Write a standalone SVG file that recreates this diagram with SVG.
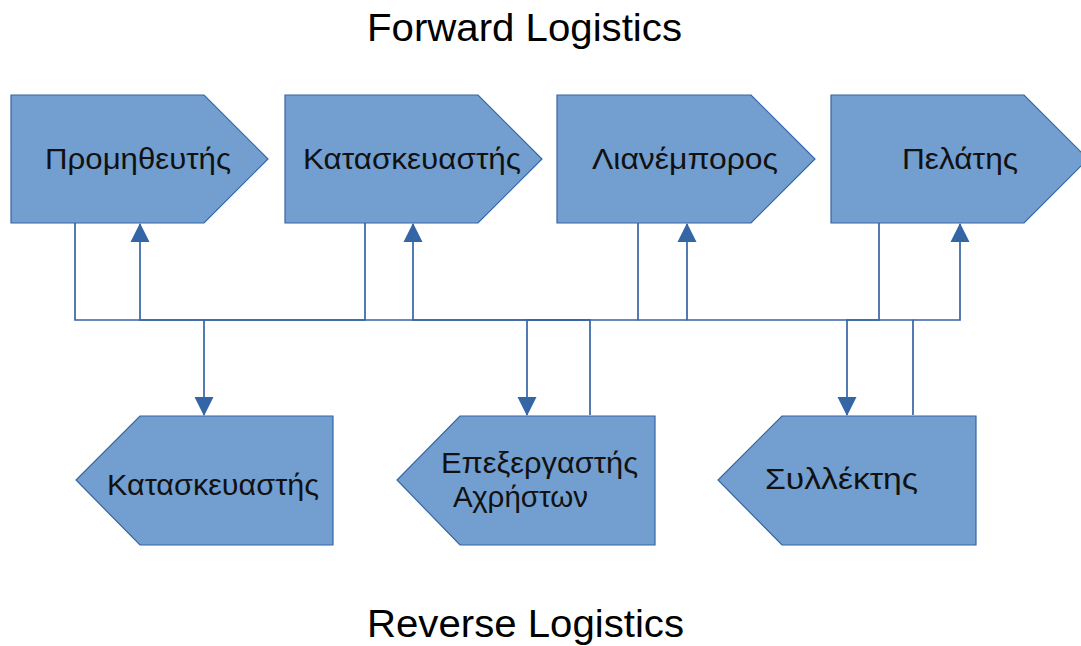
<svg xmlns="http://www.w3.org/2000/svg" width="1081" height="646" viewBox="0 0 1081 646">
  <style>
    .node { fill: #729fcf; stroke: #3465a4; stroke-width: 1.2; }
    .label { font-family: "Liberation Sans", Arial, sans-serif; font-size: 29px; fill: #111; }
    .title { font-family: "Liberation Sans", Arial, sans-serif; font-size: 38px; fill: #000; }
    .link { fill: none; stroke: #3465a4; stroke-width: 1.7; }
    .arrow { marker-end: url(#head); }
  </style>
  <defs>
    <marker id="head" markerUnits="userSpaceOnUse" markerWidth="20" markerHeight="20" viewBox="0 0 20 20" refX="18" refY="10" orient="auto">
      <path d="M0,0.5 L19,10 L0,19.5 Z" fill="#3465a4"/>
    </marker>
  </defs>
  <rect width="1081" height="646" fill="#ffffff"/>

  <text class="title" x="367" y="41" textLength="315" lengthAdjust="spacingAndGlyphs" id="t-forward">Forward Logistics</text>
  <text class="title" x="367" y="637" textLength="317" lengthAdjust="spacingAndGlyphs" id="t-reverse">Reverse Logistics</text>

  <!-- forward chain: pentagons pointing right -->
  <g id="n-supplier">
    <path class="node" d="M11,95 H204 L268,159 L204,223 H11 Z"/>
    <text class="label" x="45" y="169" textLength="186" lengthAdjust="spacingAndGlyphs">Προμηθευτής</text>
  </g>
  <g id="n-manufacturer">
    <path class="node" d="M285,95 H478 L542,159 L478,223 H285 Z"/>
    <text class="label" x="303" y="169" textLength="218" lengthAdjust="spacingAndGlyphs">Κατασκευαστής</text>
  </g>
  <g id="n-retailer">
    <path class="node" d="M557,95 H751 L815,159 L751,223 H557 Z"/>
    <text class="label" x="592" y="169" textLength="186" lengthAdjust="spacingAndGlyphs">Λιανέμπορος</text>
  </g>
  <g id="n-customer">
    <path class="node" d="M831,95 H1024 L1088,159 L1024,223 H831 Z"/>
    <text class="label" x="902" y="169" textLength="116" lengthAdjust="spacingAndGlyphs">Πελάτης</text>
  </g>

  <!-- reverse chain: pentagons pointing left -->
  <g id="n-remanufacturer">
    <path class="node" d="M140,416 H333 V545 H140 L76,480 Z"/>
    <text class="label" x="107" y="495" textLength="212" lengthAdjust="spacingAndGlyphs">Κατασκευαστής</text>
  </g>
  <g id="n-processor">
    <path class="node" d="M460,416 H655 V545 H460 L397,480 Z"/>
    <text class="label" x="441" y="473" textLength="197" lengthAdjust="spacingAndGlyphs">Επεξεργαστής</text>
    <text class="label" x="453" y="507" textLength="135" lengthAdjust="spacingAndGlyphs">Αχρήστων</text>
  </g>
  <g id="n-collector">
    <path class="node" d="M782,416 H976 V545 H782 L718,480 Z"/>
    <text class="label" x="765" y="489" textLength="153" lengthAdjust="spacingAndGlyphs">Συλλέκτης</text>
  </g>

  <!-- connectors routed over the shared bus at y=320 -->
  <g id="connectors">
    <path class="link arrow" d="M75,223 V320 H204 V415"/>
    <path class="link" d="M365,223 V320 H204"/>
    <path class="link arrow" d="M590,415 V320 H413 V224"/>
    <path class="link arrow" d="M590,320 H140 V224"/>
    <path class="link arrow" d="M638,223 V320 H527 V415"/>
    <path class="link" d="M638,320 H687"/>
    <path class="link arrow" d="M913,415 V320 H687 V224"/>
    <path class="link arrow" d="M913,320 H960 V224"/>
    <path class="link arrow" d="M879,223 V320 H847 V415"/>
  </g>
</svg>
